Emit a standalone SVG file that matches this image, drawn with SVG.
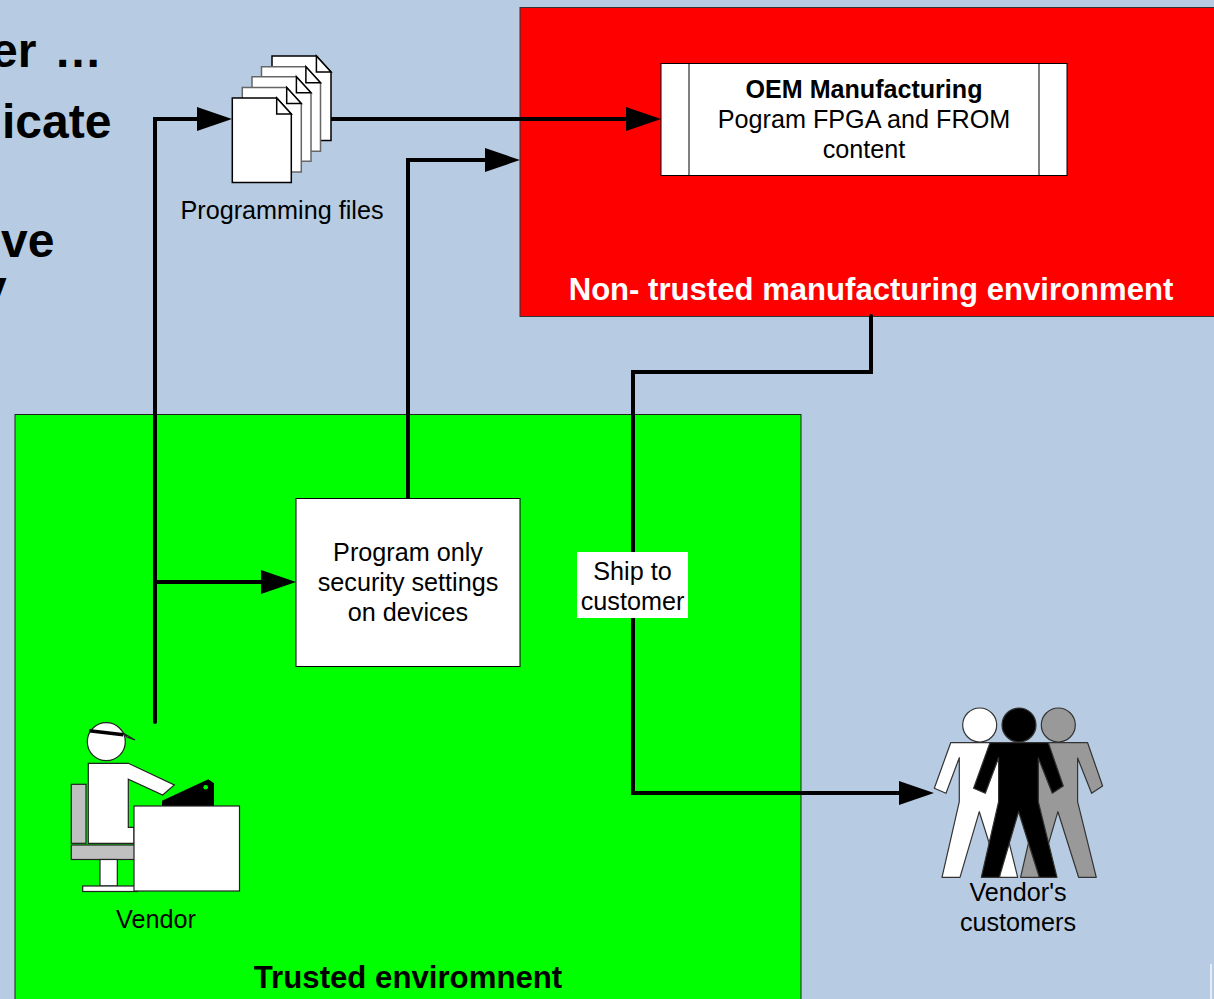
<svg xmlns="http://www.w3.org/2000/svg" width="1214" height="999" viewBox="0 0 1214 999">
  <style>
    text { font-family: "Liberation Sans", Arial, sans-serif; fill: #000; }
    .lbl { font-size: 25.200px; text-anchor: middle; }
    .head { font-size: 25.100px; font-weight: bold; text-anchor: middle; }
    .slide { font-size: 48px; font-weight: bold; }
    .box { fill: #fff; stroke: #000; stroke-width: 1; }
    .wire { fill: none; stroke: #000; stroke-width: 4; stroke-linecap: round; stroke-linejoin: miter; }
    .page { fill: #fff; stroke: #000; stroke-width: 1.5; }
    .page-mid { fill: #fff; stroke: #666; stroke-width: 1.5; }
    .fold { fill: #fff; stroke: #000; stroke-width: 1.5; }
    .figure { stroke: #333; stroke-width: 1.2; stroke-linejoin: round; }
    .outline { stroke: #222; stroke-width: 1.2; }
  </style>
  <defs>
    <marker id="arrow" markerUnits="userSpaceOnUse" markerWidth="36" markerHeight="26" refX="25" refY="12" orient="auto">
      <path d="M0 0L35 12L0 24Z" fill="#000"/>
    </marker>
    <g id="sheet">
      <path class="page" d="M0 0H44.400L59 16V84.500H0Z"/>
      <path class="fold" d="M44.400 0V16H59Z"/>
    </g>
    <g id="sheet-mid">
      <path class="page-mid" d="M0 0H44.400L59 16V84.500H0Z"/>
      <path class="fold" d="M44.400 0V16H59Z"/>
    </g>
    <g id="person">
      <circle cx="59.700" cy="30" r="17" class="figure"/>
      <path class="figure" d="M30.700 47.700H89L104 91L93 98.300L79 63V106.700L97.700 182.300H80L59.300 116.700L40 182.300H22L39.300 106.700V62.700L26 98.300L14.300 93.300Z"/>
    </g>
  </defs>

  <rect width="1214" height="999" fill="#b7cce2"/>
  <path d="M1211 964V999" stroke="#e4edf6" stroke-width="2"/>

  <g id="slide-text">
    <text class="slide" x="-9" y="67">er <tspan x="54">…</tspan></text>
    <text class="slide" x="2" y="138">icate</text>
    <text class="slide" x="1" y="257">ve</text>
    <text class="slide" x="-20" y="304">y</text>
  </g>

  <g id="trusted-environment">
    <rect x="15" y="414.500" width="786" height="600" fill="#00ff00" stroke="#222" stroke-width="1"/>
    <text x="408" y="988" style="font-size:31.200px;font-weight:bold;text-anchor:middle">Trusted enviromnent</text>
  </g>

  <g id="non-trusted-environment">
    <rect x="520" y="7.500" width="710" height="309" fill="#ff0000" stroke="#333" stroke-width="1"/>
    <text x="871" y="300" style="font-size:31.100px;font-weight:bold;fill:#fff;text-anchor:middle">Non- trusted manufacturing environment</text>
  </g>

  <g id="connectors">
    <path class="wire" d="M155 722V119H222" marker-end="url(#arrow)"/>
    <path class="wire" d="M155 582H286" marker-end="url(#arrow)"/>
    <path class="wire" d="M408 498V160H510" marker-end="url(#arrow)"/>
    <path class="wire" d="M330 119H651" marker-end="url(#arrow)"/>
    <path class="wire" d="M871 316V372H633V793H924" marker-end="url(#arrow)"/>
  </g>

  <g id="oem-manufacturing">
    <rect class="box" x="661" y="63.500" width="406" height="112"/>
    <path d="M689 63.500V175.500M1039 63.500V175.500" stroke="#000" stroke-width="1" fill="none"/>
    <text class="head" x="864" y="97.500">OEM Manufacturing</text>
    <text class="lbl" x="864" y="127.500">Pogram FPGA and FROM</text>
    <text class="lbl" x="864" y="157.500">content</text>
  </g>

  <g id="programming-files">
    <use href="#sheet" x="272" y="56"/>
    <use href="#sheet-mid" x="261.500" y="66.700"/>
    <use href="#sheet-mid" x="252" y="76.800"/>
    <use href="#sheet-mid" x="242.300" y="87.500"/>
    <use href="#sheet" x="232.300" y="98"/>
    <text class="lbl" x="282" y="218.500">Programming files</text>
  </g>

  <g id="security-settings">
    <rect class="box" x="296" y="498.500" width="224" height="168"/>
    <text class="lbl" x="408" y="560.500">Program only</text>
    <text class="lbl" x="408" y="590.500">security settings</text>
    <text class="lbl" x="408" y="620.500">on devices</text>
  </g>

  <g id="ship-to-customer">
    <rect x="577" y="552" width="111" height="66" fill="#fff"/>
    <text class="lbl" x="632.500" y="579.500">Ship to</text>
    <text class="lbl" x="632.500" y="609.500">customer</text>
  </g>

  <g id="vendor">
    <rect x="71.300" y="784.300" width="14.700" height="59" fill="#c0c0c0" class="outline"/>
    <path d="M88.300 763.300H128.300L174.300 785L162.700 795L128.300 779.300V827.300H134V843.300H88.300Z" fill="#fff" class="outline"/>
    <rect x="71.300" y="845" width="64" height="14.500" fill="#c0c0c0" class="outline"/>
    <rect x="100" y="859.500" width="17.300" height="26.500" fill="#fff" class="outline"/>
    <rect x="82.700" y="886" width="55" height="5.500" fill="#fff" class="outline"/>
    <circle cx="106.300" cy="741.700" r="19" fill="#fff" class="outline"/>
    <path d="M123 733L135 740L127 737Z" fill="#fff" class="outline"/>
    <path d="M89.300 730.700L123.300 734.700" stroke="#000" stroke-width="3.500" fill="none"/>
    <path d="M162 806V800.700L208.300 779.300L214 783.300V806Z" fill="#000"/>
    <circle cx="205.700" cy="787.300" r="2.300" fill="#00ff00"/>
    <rect x="134" y="806" width="105.500" height="85" fill="#fff" class="outline"/>
    <text class="lbl" x="156" y="927.500">Vendor</text>
  </g>

  <g id="vendors-customers">
    <use href="#person" x="920" y="695" fill="#fff"/>
    <use href="#person" x="998.600" y="695" fill="#999"/>
    <use href="#person" x="959.300" y="695" fill="#000"/>
    <text class="lbl" x="1018" y="900.500">Vendor's</text>
    <text class="lbl" x="1018" y="930.500">customers</text>
  </g>
</svg>
